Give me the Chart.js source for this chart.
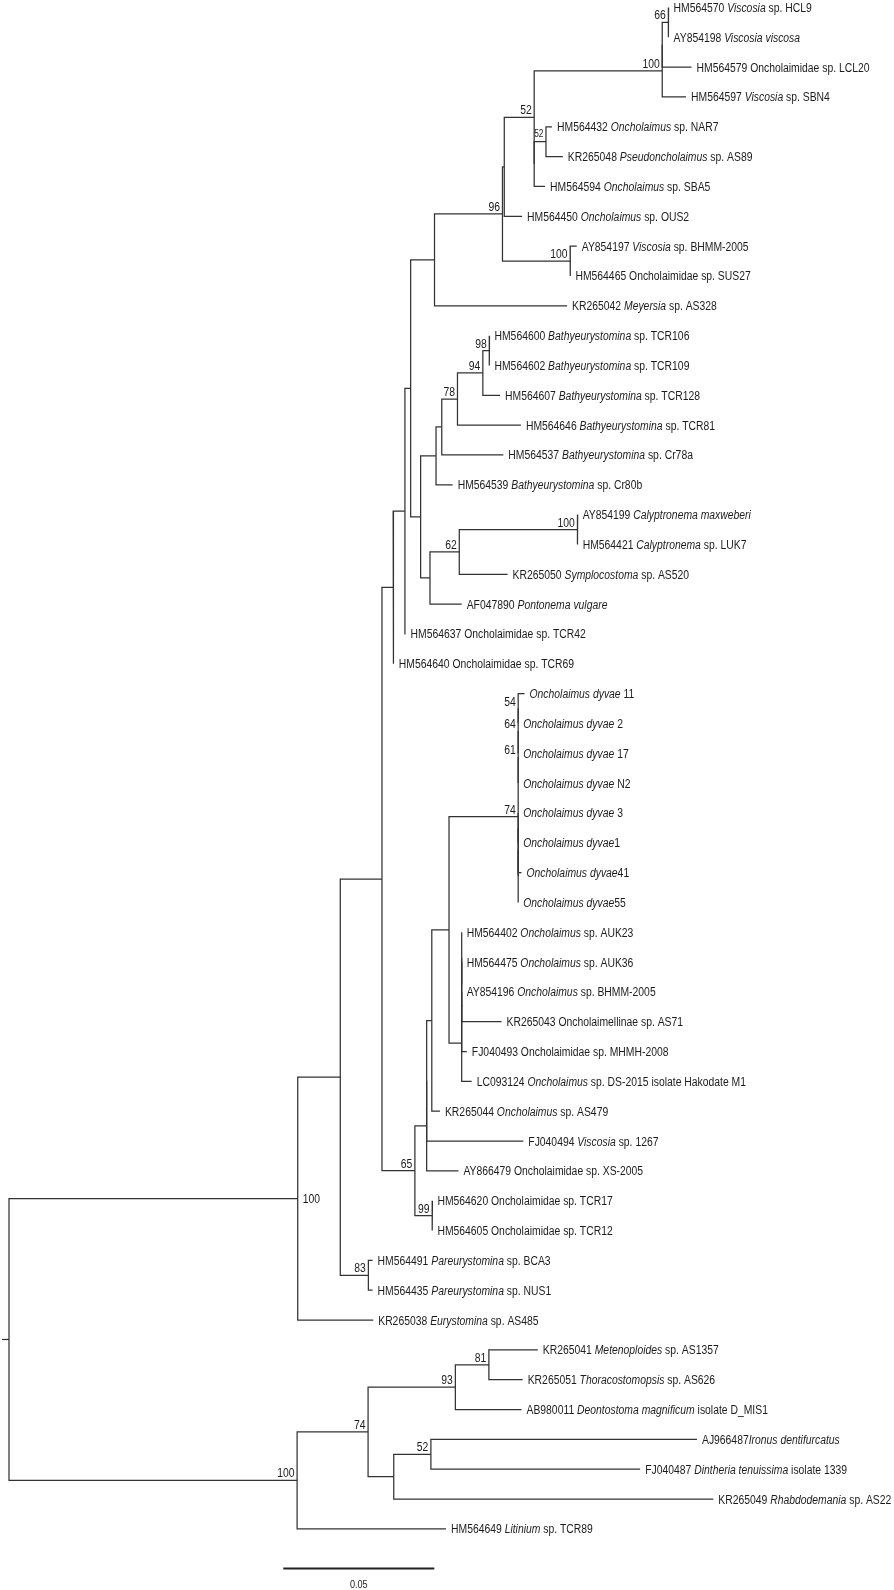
<!DOCTYPE html>
<html><head><meta charset="utf-8">
<script src="https://cdn.jsdelivr.net/npm/chart.js@4.4.1/dist/chart.umd.min.js"></script>
<style>html,body{margin:0;padding:0;background:#fff;}#wrap{width:894px;height:1590px;}</style>
</head><body><div id="wrap"><canvas id="c" width="894" height="1590"></canvas></div>
<script>
// ---------------- DATA ----------------
const leafLabels = [
 "HM564570 *Viscosia* sp. HCL9","AY854198 *Viscosia viscosa*","HM564579 Oncholaimidae sp. LCL20","HM564597 *Viscosia* sp. SBN4",
 "HM564432 *Oncholaimus* sp. NAR7","KR265048 *Pseudoncholaimus* sp. AS89","HM564594 *Oncholaimus* sp. SBA5","HM564450 *Oncholaimus* sp. OUS2",
 "AY854197 *Viscosia* sp. BHMM-2005","HM564465 Oncholaimidae sp. SUS27","KR265042 *Meyersia* sp. AS328",
 "HM564600 *Bathyeurystomina* sp. TCR106","HM564602 *Bathyeurystomina* sp. TCR109","HM564607 *Bathyeurystomina* sp. TCR128",
 "HM564646 *Bathyeurystomina* sp. TCR81","HM564537 *Bathyeurystomina* sp. Cr78a","HM564539 *Bathyeurystomina* sp. Cr80b",
 "AY854199 *Calyptronema maxweberi*","HM564421 *Calyptronema* sp. LUK7","KR265050 *Symplocostoma* sp. AS520","AF047890 *Pontonema vulgare*",
 "HM564637 Oncholaimidae sp. TCR42","HM564640 Oncholaimidae sp. TCR69",
 "*Oncholaimus dyvae* 11","*Oncholaimus dyvae* 2","*Oncholaimus dyvae* 17","*Oncholaimus dyvae* N2","*Oncholaimus dyvae* 3",
 "*Oncholaimus dyvae*1","*Oncholaimus dyvae*41","*Oncholaimus dyvae*55",
 "HM564402 *Oncholaimus* sp. AUK23","HM564475 *Oncholaimus* sp. AUK36","AY854196 *Oncholaimus* sp. BHMM-2005",
 "KR265043 Oncholaimellinae sp. AS71","FJ040493 Oncholaimidae sp. MHMH-2008","LC093124 *Oncholaimus* sp. DS-2015 isolate Hakodate M1",
 "KR265044 *Oncholaimus* sp. AS479","FJ040494 *Viscosia* sp. 1267","AY866479 Oncholaimidae sp. XS-2005",
 "HM564620 Oncholaimidae sp. TCR17","HM564605 Oncholaimidae sp. TCR12",
 "HM564491 *Pareurystomina* sp. BCA3","HM564435 *Pareurystomina* sp. NUS1","KR265038 *Eurystomina* sp. AS485",
 "KR265041 *Metenoploides* sp. AS1357","KR265051 *Thoracostomopsis* sp. AS626","AB980011 *Deontostoma magnificum* isolate D_MIS1",
 "AJ966487*Ironus dentifurcatus*","FJ040487 *Dintheria tenuissima* isolate 1339","KR265049 *Rhabdodemania* sp. AS22","HM564649 *Litinium* sp. TCR89"
];
const leafParent = [
 "n66","n66","nZ","n100","n52b","n52b","nY","nX","n100b","n100b","n435",
 "n98","n98","n94","n78","n441","nBathy","n100c","n100c","n62","nCal","n405","n393",
 "n54","n54","n64","n61","nW3","nW3","nW2","nW",
 "nA2","nA3","nA4","nA4","nA1","nAUK","n431","nIn","n426","n99","n99",
 "n83","n83","U100","n81","n81","n93","n52c","n52c","nLow","L100"
];
const leafLength = [
 0.0001,0.0001,0.0097,0.0079,0.0020,0.0056,0.0036,0.0059,0.0022,0.0001,0.0439,
 0.0001,0.0001,0.0057,0.0210,0.0204,0.0055,0.0001,0.0001,0.0160,0.0105,0.0002,0.0002,
 0.0021,0,0,0,0,0,0.0011,0,
 0,0,0,0.0132,0.0017,0.0033,0.0027,0.0320,0.0105,0.0001,0.0001,
 0.0014,0.0014,0.0250,0.0162,0.0112,0.0219,0.0881,0.0693,0.1058,0.0493
];
const nodeNames = ["root","U100","L100","N340","N382","n83","n393","n65","n405","n410","n435","n420",
 "n96","nX","n100b","n52","nY","n52b","n100","nZ","n66","nBathy","n441","n78","n94","n98","nCal","n62","n100c",
 "n426","nIn","n431","nP1","n74","n61","n64","n54","nW","nW2","nW3","nAUK","nA1","nA2","nA3","nA4","n99",
 "n74b","n93","n81","nLow","n52c"];
const nodeParent = [null,"root","root","U100","N340","N340","N382","N382","n393","n405","n410","n410",
 "n435","n96","n96","nX","n52","nY","n52","n100","nZ","n420","nBathy","n441","n78","n94","n420","nCal","n62",
 "n65","n426","nIn","n431","nP1","n74","n61","n64","n74","nW","nW2","nP1","nAUK","nA1","nA2","nA3","n65",
 "L100","n74b","n93","n74b","nLow"];
const nodeLength = [0.0023,0.0956,0.0954,0.0141,0.0138,0.0093,0.0037,0.0109,0.0039,0.0019,0.0079,0.0033,
 0.0225,0.0006,0.0224,0.0099,0,0.0039,0.0424,0,0.0020,0.0051,0.0019,0.0052,0.0084,0.0021,0.0031,0.0097,0.0391,
 0.0039,0,0.0017,0.0057,0.0229,0,0,0,0,0,0,0.0042,0,0,0,0,0.0057,
 0.0235,0.0289,0.0111,0.0085,0.0123];
const nodeSupport = [null,"100","100",null,null,"83",null,"65",null,null,null,null,
 "96",null,"100","52",null,"52","100",null,"66",null,null,"78","94","98",null,"62","100",
 null,null,null,null,"74","61","64","54",null,null,null,null,null,null,null,null,"99",
 "74","93","81",null,"52"];
const scaleBarValue = 0.05;
const scaleBarLabel = "0.05";

// ---------------- LAYOUT CONSTANTS ----------------
const PX_PER_UNIT = 3020, ROOT_PX = 9;
const LEAF_TOP = 7.5, LEAF_STEP = 29.83;
const W = 894, H = 1590;
const X_MIN = -ROOT_PX / PX_PER_UNIT, X_MAX = X_MIN + W / PX_PER_UNIT;
const Y_MIN = -LEAF_TOP / LEAF_STEP, Y_MAX = Y_MIN + H / LEAF_STEP;
const LINE = '#333333', TEXT = '#1c1c1c';
const SQ = 0.83; // narrow font compression
const FONT = '"Liberation Sans", Arial, sans-serif';
const rightSupport = new Set(["U100"]);
const smallSupport = new Set(["n52b"]);

// ---------------- TREE COMPUTATION ----------------
const idx = {}; nodeNames.forEach((n,i)=>idx[n]=i);
const kids = nodeNames.map(()=>[]);
leafParent.forEach((p,i)=>kids[idx[p]].push({leaf:true,i}));
nodeParent.forEach((p,i)=>{ if(p!==null) kids[idx[p]].push({leaf:false,i}); });
const nDepth = [];
function depth(i){ if(nDepth[i]!==undefined) return nDepth[i]; const p=nodeParent[i];
  nDepth[i] = p===null ? 0 : depth(idx[p]) + nodeLength[i]; return nDepth[i]; }
nodeNames.forEach((_,i)=>depth(i));
const leafDepth = leafParent.map((p,i)=>nDepth[idx[p]] + leafLength[i]);
const minLeafMemo = [];
function minLeaf(c){ if(c.leaf) return c.i; if(minLeafMemo[c.i]!==undefined) return minLeafMemo[c.i];
  return minLeafMemo[c.i] = Math.min(...kids[c.i].map(minLeaf)); }
kids.forEach(k=>k.sort((a,b)=>minLeaf(a)-minLeaf(b)));
const nY = [];
function yOf(c){ if(c.leaf) return c.i; if(nY[c.i]!==undefined) return nY[c.i];
  const k=kids[c.i]; return nY[c.i] = (yOf(k[0]) + yOf(k[k.length-1]))/2; }
nodeNames.forEach((_,i)=>yOf({leaf:false,i}));
const xOf = c => c.leaf ? leafDepth[c.i] : nDepth[c.i];

const datasets = [];
const seg = pts => datasets.push({data:pts, showLine:true, borderColor:LINE, borderWidth:1.25,
  pointRadius:0, borderJoinStyle:'miter', borderCapStyle:'butt', fill:false});
nodeNames.forEach((_,i)=>{
  const k = kids[i]; if(!k.length) return;
  const nx = nDepth[i];
  const f = k[0], l = k[k.length-1];
  seg([{x:xOf(f),y:yOf(f)},{x:nx,y:yOf(f)},{x:nx,y:yOf(l)},{x:xOf(l),y:yOf(l)}]);
  k.slice(1,-1).forEach(c=>seg([{x:nx,y:yOf(c)},{x:xOf(c),y:yOf(c)}]));
});
// root stub
const r = idx["root"];
seg([{x:-nodeLength[r], y:nY[r]},{x:0, y:nY[r]}]);
// scale bar
const SB_X0 = (283.3 - ROOT_PX)/PX_PER_UNIT, SB_Y = (1568.5 - LEAF_TOP)/LEAF_STEP;
datasets.push({data:[{x:SB_X0,y:SB_Y},{x:SB_X0+scaleBarValue,y:SB_Y}], showLine:true, borderColor:'#222',
  borderWidth:1.8, pointRadius:0, borderCapStyle:'butt'});

function richWidth(ctx, text, size){
  let w=0; text.split('*').forEach((p,k)=>{ if(!p) return; ctx.font=(k%2?'italic ':'')+size+'px '+FONT; w+=ctx.measureText(p).width; });
  return w*SQ;
}
function drawRich(ctx, text, x, y, size){
  ctx.save(); ctx.translate(x,y); ctx.scale(SQ,1); ctx.textBaseline='alphabetic'; ctx.textAlign='left';
  let cx=0;
  text.split('*').forEach((p,k)=>{ if(!p) return; ctx.font=(k%2?'italic ':'')+size+'px '+FONT; ctx.fillText(p,cx,0); cx+=ctx.measureText(p).width; });
  ctx.restore();
}
const labelPlugin = {
  id:'treeLabels',
  afterDatasetsDraw(chart){
    const ctx=chart.ctx, xs=chart.scales.x, ys=chart.scales.y;
    ctx.save(); ctx.fillStyle=TEXT;
    leafLabels.forEach((lab,i)=>{
      drawRich(ctx, lab, xs.getPixelForValue(leafDepth[i]) + 5, ys.getPixelForValue(i) + 4.5, 12.5);
    });
    nodeSupport.forEach((s,i)=>{
      if(!s) return;
      const px = xs.getPixelForValue(nDepth[i]), py = ys.getPixelForValue(nY[i]);
      const name = nodeNames[i];
      if(rightSupport.has(name)){ drawRich(ctx, s, px+5, py+4.5, 12.5); return; }
      const size = smallSupport.has(name) ? 10 : 12.5;
      const w = richWidth(ctx, s, size);
      drawRich(ctx, s, px - 2.5 - w, py - (smallSupport.has(name)?5:3), size);
    });
    const sbx = (xs.getPixelForValue(SB_X0) + xs.getPixelForValue(SB_X0+scaleBarValue))/2;
    const w = richWidth(ctx, scaleBarLabel, 11);
    drawRich(ctx, scaleBarLabel, sbx - w/2, ys.getPixelForValue(SB_Y) + 19, 11);
    ctx.restore();
  }
};

new Chart(document.getElementById('c'), {
  type:'scatter',
  data:{datasets},
  options:{responsive:false, animation:false, events:[], layout:{padding:0},
    plugins:{legend:{display:false}, tooltip:{enabled:false}},
    scales:{x:{type:'linear', display:false, min:X_MIN, max:X_MAX},
            y:{type:'linear', display:false, min:Y_MIN, max:Y_MAX, reverse:true}}},
  plugins:[labelPlugin]
});
</script></body></html>
